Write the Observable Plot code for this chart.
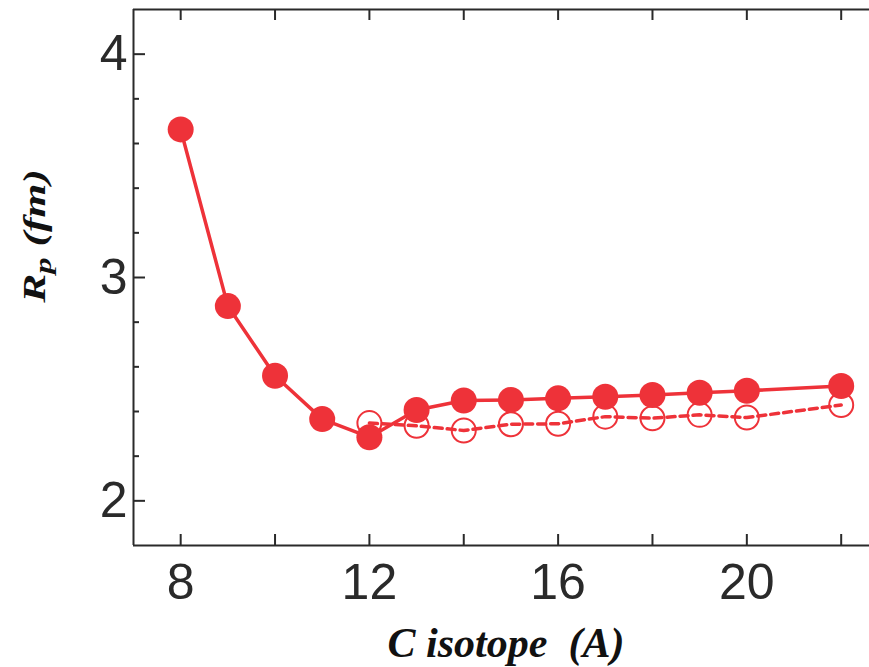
<!DOCTYPE html>
<html>
<head>
<meta charset="utf-8">
<script src="https://cdn.jsdelivr.net/npm/d3@7"></script>
<script src="https://cdn.jsdelivr.net/npm/@observablehq/plot@0.6"></script>
<style>
  html, body { margin: 0; padding: 0; background: #fff; }
  svg { display: block; }
</style>
</head>
<body>
<div id="chart"></div>
<script>
// Proton radius R_p of carbon isotopes versus mass number A
const massNumbers = [8, 9, 10, 11, 12, 13, 14, 15, 16, 17, 18, 19, 20, 22];
const radiusFilled = [3.663, 2.872, 2.560, 2.366, 2.285, 2.407, 2.449, 2.452, 2.459, 2.466, 2.474, 2.484, 2.493, 2.514];

const openMassNumbers = [12, 13, 14, 15, 16, 17, 18, 19, 20, 22];
const radiusOpen = [2.348, 2.336, 2.315, 2.343, 2.345, 2.377, 2.370, 2.385, 2.373, 2.429];

// tick values
const xTickLabels = [8, 12, 16, 20];
const xTicks = [8, 10, 12, 14, 16, 18, 20, 22];
const yTickLabels = [2, 3, 4];
const yMinorTicks = [2.2, 2.4, 2.6, 2.8, 3.2, 3.4, 3.6, 3.8];

const xTitle = "C isotope\u00a0 (A)";

const red = "#ee3239";
const ink = "#2a2a2a";

const W = 869, H = 667;
const mLeft = 133, mRight = 0, mTop = 9, mBottom = 122;
const frameW = W - mLeft - mRight;
const frameH = H - mTop - mBottom;

const filled = massNumbers.map((a, i) => ({a, r: radiusFilled[i]}));
const openPts = openMassNumbers.map((a, i) => ({a, r: radiusOpen[i]}));

const chart = Plot.plot({
  width: W,
  height: H,
  marginLeft: mLeft,
  marginRight: mRight,
  marginTop: mTop,
  marginBottom: mBottom,
  x: {domain: [7, 22.6]},
  y: {domain: [1.8, 4.2]},
  marks: [
    // inward ticks: short rules inset from the frame edges
    Plot.ruleX(xTicks, {x: (d) => d, insetTop: frameH - 11, stroke: ink, strokeWidth: 2}),
    Plot.ruleX(xTicks, {x: (d) => d, insetBottom: frameH - 11, stroke: ink, strokeWidth: 2}),
    Plot.ruleY(yTickLabels, {y: (d) => d, insetRight: frameW - 12, stroke: ink, strokeWidth: 2}),
    Plot.ruleY(yMinorTicks, {y: (d) => d, insetRight: frameW - 6, stroke: ink, strokeWidth: 2}),

    // frame edges (left, bottom, top)
    Plot.ruleX([7], {stroke: ink, strokeWidth: 2}),
    Plot.ruleY([1.8, 4.2], {stroke: ink, strokeWidth: 2}),

    // tick labels
    Plot.axisX({ticks: xTickLabels, anchor: "bottom", tickSize: 0, tickPadding: 18, fontSize: 50, fontFamily: "'Liberation Sans', Arial, sans-serif", label: null, fill: ink, tickFormat: (d) => String(d)}),
    Plot.axisY({ticks: yTickLabels, anchor: "left", tickSize: 0, tickPadding: 6, fontSize: 50, fontFamily: "'Liberation Sans', Arial, sans-serif", label: null, fill: ink, tickFormat: (d) => String(d)}),

    // open-circle series (dashed)
    Plot.line(openPts, {x: "a", y: "r", stroke: red, strokeWidth: 3.5, strokeDasharray: "8,5"}),
    Plot.dot(openPts, {x: "a", y: "r", r: 12, stroke: red, strokeWidth: 2, fill: "none"}),

    // filled-circle series (solid)
    Plot.line(filled, {x: "a", y: "r", stroke: red, strokeWidth: 3.5}),
    Plot.dot(filled, {x: "a", y: "r", r: 13, fill: red, stroke: "none"})
  ]
});

const svg = d3.select(chart);

// x-axis title
svg.append("text")
  .attr("x", 506)
  .attr("y", 657)
  .attr("text-anchor", "middle")
  .attr("font-family", "'Liberation Serif', 'Times New Roman', serif")
  .attr("font-weight", "bold")
  .attr("font-style", "italic")
  .attr("font-size", 42)
  .attr("fill", "#111")
  .text(xTitle);

// y-axis title with subscript
const yTitle = svg.append("text")
  .attr("transform", "translate(45,236) rotate(-90) scale(1.36,1)")
  .attr("text-anchor", "middle")
  .attr("font-family", "'Liberation Serif', 'Times New Roman', serif")
  .attr("font-weight", "bold")
  .attr("font-style", "italic")
  .attr("font-size", 32)
  .attr("fill", "#111");
yTitle.append("tspan").text("R");
yTitle.append("tspan").attr("font-size", 24).attr("dy", 6).text("p");
yTitle.append("tspan").attr("dy", -6).text(" (fm)");

document.getElementById("chart").appendChild(chart);
</script>
</body>
</html>
